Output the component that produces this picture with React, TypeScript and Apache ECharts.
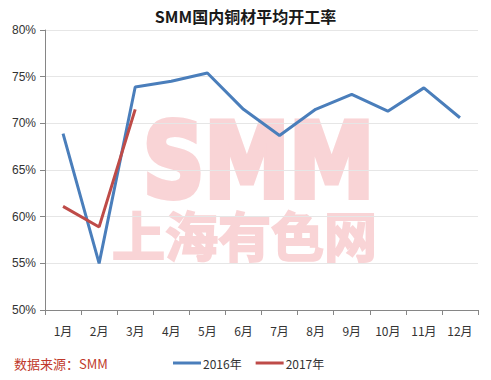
import React, { useEffect, useRef } from "react";
import * as echarts from "echarts";

const months = ["1月", "2月", "3月", "4月", "5月", "6月", "7月", "8月", "9月", "10月", "11月", "12月"];
const s2016 = [68.9, 55.0, 73.9, 74.5, 75.4, 71.5, 68.7, 71.5, 73.1, 71.3, 73.8, 70.6];
const s2017 = [61.1, 58.9, 71.5];
const seriesNames = ["2016年", "2017年"];

export default function App() {
  const ref = useRef<HTMLDivElement>(null);
  useEffect(() => {
    const chart = echarts.init(ref.current!, null, { renderer: "svg" });
    chart.setOption({
      animation: false,
      backgroundColor: "#ffffff",
      title: {
        text: "SMM国内铜材平均开工率",
        left: "center",
        top: 3,
        textStyle: { fontSize: 16, fontWeight: "bold", color: "#1a1a1a", fontFamily: "Noto Sans CJK SC" },
      },
      graphic: [
        {
          type: "text",
          x: 143,
          y: 161,
          scaleX: 0.82,
          z: -10,
          silent: true,
          style: {
            text: "SMM",
            fontSize: 104,
            fontWeight: "bold",
            fontFamily: "DejaVu Sans",
            fill: "#f9d4d6",
            stroke: "#f9d4d6",
            lineWidth: 6,
            align: "left",
            verticalAlign: "middle",
          },
        },
        {
          type: "text",
          x: 112,
          y: 234,
          z: -10,
          silent: true,
          style: {
            text: "上海有色网",
            fontSize: 53,
            fontWeight: "bold",
            fontFamily: "Noto Sans CJK SC",
            fill: "#f9d4d6",
            stroke: "#f9d4d6",
            lineWidth: 2,
            align: "left",
            verticalAlign: "middle",
          },
        },
        {
          type: "text",
          left: 14,
          top: 357,
          style: { text: "数据来源：SMM", fontSize: 13, fill: "#c0392b", fontFamily: "Noto Sans CJK SC" },
        },
      ],
      legend: {
        bottom: 6,
        left: 168,
        itemWidth: 28,
        itemHeight: 3,
        itemGap: 14,
        icon: "rect",
        textStyle: { fontSize: 12, color: "#333", fontFamily: "Noto Sans CJK SC", padding: [0, 0, 0, -3] },
        data: seriesNames,
      },
      grid: { left: 45, right: 13, top: 30, bottom: 70, containLabel: false },
      xAxis: {
        type: "category",
        data: months,
        boundaryGap: true,
        axisLine: { lineStyle: { color: "#868686" } },
        axisTick: { show: true, length: 5, lineStyle: { color: "#868686" } },
        axisLabel: { fontSize: 12, color: "#333", margin: 14, fontFamily: "Noto Sans CJK SC" },
      },
      yAxis: {
        type: "value",
        min: 50,
        max: 80,
        interval: 5,
        axisLine: { show: true, lineStyle: { color: "#868686" } },
        axisTick: { show: true, length: 5, lineStyle: { color: "#868686" } },
        axisLabel: { fontSize: 12, color: "#333", formatter: "{value}%", margin: 9, fontFamily: "Liberation Sans" },
        splitLine: { lineStyle: { color: "#e6e6e6" } },
      },
      series: [
        {
          name: seriesNames[0],
          type: "line",
          data: s2016,
          symbol: "none",
          color: "#4a7ebb",
          lineStyle: { width: 3, color: "#4a7ebb" },
        },
        {
          name: seriesNames[1],
          type: "line",
          data: s2017,
          symbol: "none",
          color: "#be4b48",
          lineStyle: { width: 3, color: "#be4b48" },
        },
      ],
    });
    return () => chart.dispose();
  }, []);
  return <div ref={ref} style={{ width: 491, height: 380, position: "absolute", left: 0, top: 0 }} />;
}
